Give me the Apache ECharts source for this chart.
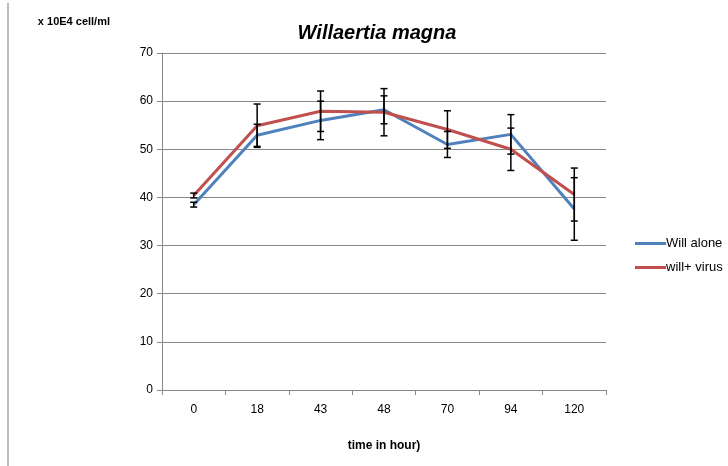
<!DOCTYPE html>
<html>
<head>
<meta charset="utf-8">
<script src="https://cdn.jsdelivr.net/npm/echarts@6/dist/echarts.min.js"></script>
<style>html,body{margin:0;padding:0;background:#fff}#c{width:728px;height:466px}</style>
</head>
<body>
<div id="c"></div>
<script>
var categories = ['0', '18', '43', '48', '70', '94', '120'];
var willAlone = [38.5, 52.9, 56.0, 58.2, 51.0, 53.1, 37.6];
var willAloneErr = [0.5, 2.3, 4.0, 2.9, 2.7, 4.1, 6.5];
var willVirus = [40.4, 54.9, 57.9, 57.7, 54.1, 50.0, 40.6];
var willVirusErr = [0.5, 4.5, 4.2, 4.9, 3.9, 4.4, 5.5];
var yTicks = [0, 10, 20, 30, 40, 50, 60, 70];

function errData(vals, errs) {
  return vals.map(function (v, i) { return [i, v - errs[i], v + errs[i]]; });
}
function renderErr(params, api) {
  var x = api.value(0);
  var lo = api.coord([x, api.value(1)]);
  var hi = api.coord([x, api.value(2)]);
  var cw = 3.5;
  var st = { stroke: '#000', lineWidth: 1.5 };
  return {
    type: 'group',
    children: [
      { type: 'line', shape: { x1: hi[0], y1: hi[1], x2: lo[0], y2: lo[1] }, style: st },
      { type: 'line', shape: { x1: hi[0] - cw, y1: hi[1], x2: hi[0] + cw, y2: hi[1] }, style: st },
      { type: 'line', shape: { x1: lo[0] - cw, y1: lo[1], x2: lo[0] + cw, y2: lo[1] }, style: st }
    ]
  };
}

var font = 'Liberation Sans, Arial, sans-serif';
var chart = echarts.init(document.getElementById('c'));
chart.setOption({
  animation: false,
  textStyle: { fontFamily: font },
  title: {
    text: 'Willaertia magna',
    left: 372, top: 18, textAlign: 'center',
    textStyle: { fontSize: 20, fontStyle: 'italic', fontWeight: 'bold', color: '#000', fontFamily: font }
  },
  graphic: [{
    type: 'line', shape: { x1: 8, y1: 3, x2: 8, y2: 466 },
    style: { stroke: '#bbbbbb', lineWidth: 2 }
  }],
  legend: {
    orient: 'vertical', left: 630, top: 232,
    icon: 'rect', itemWidth: 31, itemHeight: 3, itemGap: 11,
    textStyle: { fontSize: 13, color: '#000', fontFamily: font, padding: [0, 0, 0, -5] },
    data: ['Will alone', 'will+ virus']
  },
  grid: { left: 162, right: 122, top: 53, bottom: 76 },
  xAxis: {
    type: 'category', data: categories, boundaryGap: true,
    name: 'time in hour)', nameLocation: 'middle', nameGap: 50,
    nameTextStyle: { fontSize: 12, fontWeight: 'bold', color: '#000', fontFamily: font },
    axisLine: { lineStyle: { color: '#888', width: 1 } },
    axisTick: { show: true, length: 5, lineStyle: { color: '#888' } },
    axisLabel: { fontSize: 12, color: '#000', margin: 14, fontFamily: font }
  },
  yAxis: {
    type: 'value', min: 0, max: 70, interval: 10,
    name: 'x 10E4 cell/ml', nameLocation: 'end', nameGap: 31,
    nameTextStyle: { fontSize: 11, fontWeight: 'bold', color: '#000', align: 'right', verticalAlign: 'middle', padding: [0, 52, 0, 0], fontFamily: font },
    axisLine: { show: true, lineStyle: { color: '#888', width: 1 } },
    axisTick: { show: true, length: 5, lineStyle: { color: '#888' } },
    axisLabel: {
      fontSize: 12, color: '#000', margin: 9, fontFamily: font,
      formatter: function (v) { return yTicks.indexOf(v) >= 0 ? String(v) : ''; }
    },
    splitLine: { lineStyle: { color: '#888', width: 1 } }
  },
  series: [
    {
      name: 'Will alone', type: 'line', data: willAlone, symbol: 'none',
      lineStyle: { color: '#4F81BD', width: 3 }, itemStyle: { color: '#4F81BD' }, z: 2
    },
    {
      name: 'will+ virus', type: 'line', data: willVirus, symbol: 'none',
      lineStyle: { color: '#C0504D', width: 3 }, itemStyle: { color: '#C0504D' }, z: 3
    },
    {
      name: 'errA', type: 'custom', renderItem: renderErr, data: errData(willAlone, willAloneErr),
      encode: { x: 0, y: [1, 2] }, z: 5, silent: true
    },
    {
      name: 'errV', type: 'custom', renderItem: renderErr, data: errData(willVirus, willVirusErr),
      encode: { x: 0, y: [1, 2] }, z: 5, silent: true
    }
  ]
});
</script>
</body>
</html>
